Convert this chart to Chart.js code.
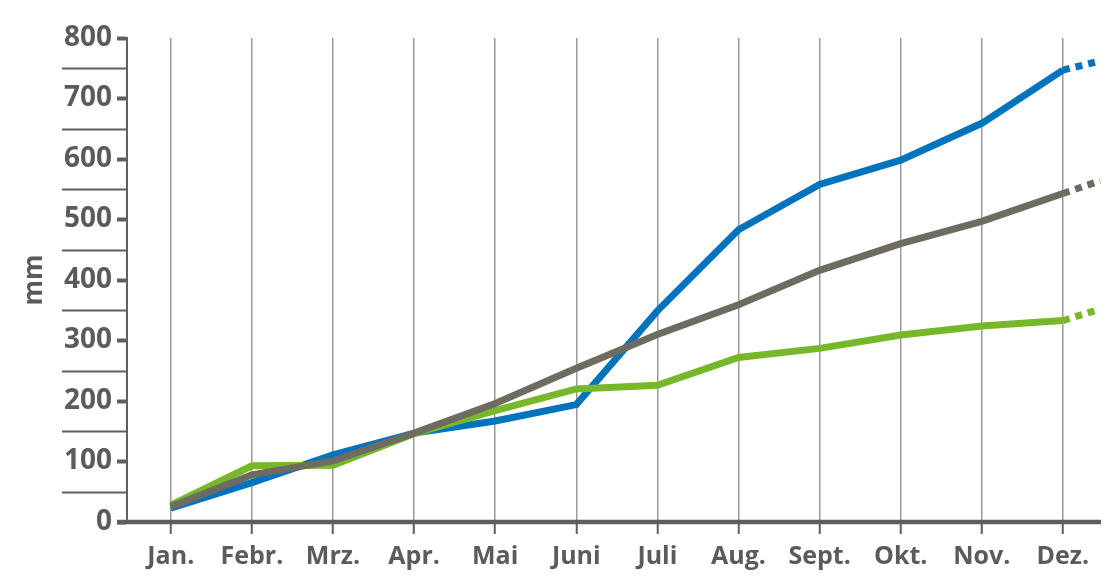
<!DOCTYPE html>
<html lang="de">

<head>
    <meta charset="UTF-8">
    <title>Niederschlag kumuliert</title>
    <script src="https://cdn.jsdelivr.net/npm/chart.js"></script>
    <style>
        body {
            margin: 0;
            background: #fff;
        }

        .wrap {
            width: 1113px;
            height: 585px;
        }
    </style>
</head>

<body>
    <div class="wrap">
        <canvas id="chart"></canvas>
    </div>

    <script>
        // data
        const months = ['Jan.', 'Febr.', 'Mrz.', 'Apr.', 'Mai', 'Juni', 'Juli', 'Aug.', 'Sept.', 'Okt.', 'Nov.', 'Dez.'];
        const blueValues = [23, 65, 111, 147, 167, 194, 349, 483, 558, 598, 659, 747];
        const grayValues = [25, 78, 101, 147, 196, 254, 310, 359, 416, 460, 497, 543];
        const greenValues = [28, 93, 94, 146, 184, 220, 226, 272, 287, 309, 324, 333];
        // dotted continuation after Dez.
        const extensionX = 11.46;
        const blueExtension = 762;
        const grayExtension = 564;
        const greenExtension = 352;
        const yTicks = [0, 100, 200, 300, 400, 500, 600, 700, 800];

        const textColor = '#5b5b5b';
        const axisColor = '#5f5f5f';

        function points(values, ext) {
            const pts = values.map((v, i) => ({ x: i, y: v }));
            pts.push({ x: extensionX, y: ext });
            return pts;
        }

        function series(values, ext, color) {
            return {
                data: points(values, ext),
                borderColor: color,
                borderWidth: 7,
                pointRadius: 0,
                tension: 0,
                borderJoinStyle: 'miter',
                borderCapStyle: 'butt',
                segment: {
                    borderDash: ctx => ctx.p1DataIndex === values.length ? [7, 6] : undefined
                }
            };
        }

        // long marks at the half steps and the heavy x axis line
        const axisDecor = {
            id: 'axisDecor',
            afterDraw(chart) {
                const { ctx, chartArea, scales } = chart;
                const y = scales.y;
                ctx.save();
                ctx.strokeStyle = axisColor;
                ctx.lineWidth = 1.8;
                for (let i = 0; i < yTicks.length - 1; i++) {
                    const py = Math.round(y.getPixelForValue((yTicks[i] + yTicks[i + 1]) / 2)) + 0.5;
                    ctx.beginPath();
                    ctx.moveTo(62, py);
                    ctx.lineTo(chartArea.left, py);
                    ctx.stroke();
                }
                const base = y.getPixelForValue(0);
                ctx.lineWidth = 4.5;
                ctx.beginPath();
                ctx.moveTo(chartArea.left - 10, base);
                ctx.lineTo(chartArea.right, base);
                ctx.stroke();
                ctx.restore();
            }
        };

        new Chart(document.getElementById('chart'), {
            type: 'line',
            data: {
                datasets: [
                    series(grayValues, grayExtension, '#6e6c61'),
                    series(greenValues, greenExtension, '#77b82a'),
                    series(blueValues, blueExtension, '#0073bd')
                ]
            },
            options: {
                responsive: true,
                maintainAspectRatio: false,
                animation: false,
                layout: { padding: { top: 38, right: 12, left: 0, bottom: 0 } },
                plugins: {
                    legend: { display: false },
                    tooltip: { enabled: false }
                },
                scales: {
                    x: {
                        type: 'linear',
                        min: -0.54,
                        max: 11.47,
                        afterBuildTicks: scale => {
                            scale.ticks = months.map((m, i) => ({ value: i }));
                        },
                        afterFit: scale => { scale.height = 63; },
                        border: { display: false },
                        grid: {
                            color: '#9a9a9a',
                            lineWidth: 1.5,
                            tickColor: axisColor,
                            tickWidth: 2,
                            tickLength: 12
                        },
                        ticks: {
                            color: textColor,
                            padding: 8,
                            maxRotation: 0,
                            autoSkip: false,
                            font: { family: 'Open Sans', weight: 'bold', size: 25 },
                            callback: v => months[v]
                        }
                    },
                    y: {
                        min: 0,
                        max: 800,
                        afterBuildTicks: scale => {
                            scale.ticks = yTicks.map(v => ({ value: v }));
                        },
                        afterFit: scale => { scale.width = 127; },
                        border: { display: true, color: axisColor, width: 2 },
                        grid: {
                            drawOnChartArea: false,
                            tickLength: 10,
                            tickWidth: 4,
                            tickColor: axisColor
                        },
                        ticks: {
                            color: textColor,
                            padding: 5,
                            font: { family: 'Open Sans', weight: 'bold', size: 28 }
                        },
                        title: {
                            display: true,
                            text: 'mm',
                            color: textColor,
                            padding: { top: 19, bottom: 0 },
                            font: { family: 'Open Sans', weight: 'bold', size: 26 }
                        }
                    }
                }
            },
            plugins: [axisDecor]
        });
    </script>
</body>

</html>
